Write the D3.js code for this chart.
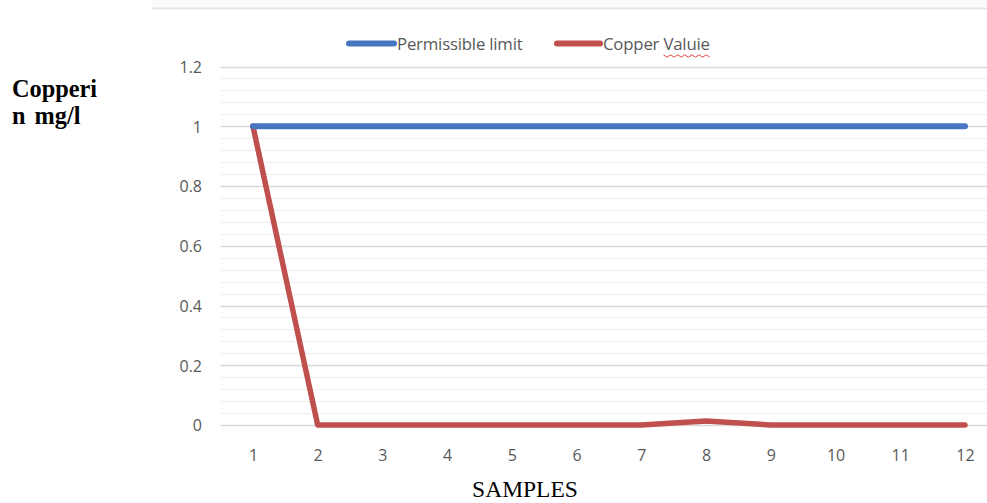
<!DOCTYPE html>
<html><head><meta charset="utf-8">
<script src="https://cdn.jsdelivr.net/npm/d3@7"></script>
<style>html,body{margin:0;padding:0;background:#fff;}svg{display:block;}</style>
</head><body>
<svg id="c" width="987" height="503"></svg>
<script>
const samples = ["1","2","3","4","5","6","7","8","9","10","11","12"];
const permissibleLimit = [1,1,1,1,1,1,1,1,1,1,1,1];
const copperValue = [1,0,0,0,0,0,0,0.013,0,0,0,0];
const yTicks = [0,0.2,0.4,0.6,0.8,1,1.2];
const seriesNames = ["Permissible limit","Copper Valuie"];
const seriesColors = ["#4775c2","#c0504d"];

const svg = d3.select("#c");
const W = 987, H = 503;
const left = 220.6, bandW = 64.73;
const x = d3.scalePoint().domain(samples).range([left + bandW/2, left + bandW/2 + bandW*11]);
const y = d3.scaleLinear().domain([0,1.2]).range([425,66.5]);
const sans = "'Open Sans', 'Noto Sans', sans-serif";
const serif = "'Liberation Serif', 'Times New Roman', serif";

// top frame strip
svg.append("rect").attr("x",152).attr("y",0).attr("width",W-152).attr("height",8).attr("fill","#fafafa");
svg.append("line").attr("x1",152).attr("x2",W).attr("y1",8.5).attr("y2",8.5).attr("stroke","#e6e6e6").attr("stroke-width",2);

const gridRight = left + bandW*12;
// minor gridlines
const minor = d3.range(0, 1.2001, 0.04).filter(v => Math.abs(v/0.2 - Math.round(v/0.2)) > 1e-6);
svg.append("g").selectAll("line").data(minor).join("line")
  .attr("x1",left).attr("x2",gridRight)
  .attr("y1",d=>Math.round(y(d))+0.5).attr("y2",d=>Math.round(y(d))+0.5)
  .attr("stroke","#efefef").attr("stroke-width",1);
// major gridlines
svg.append("g").selectAll("line").data(yTicks).join("line")
  .attr("x1",left).attr("x2",gridRight)
  .attr("y1",d=>Math.round(y(d))+0.5).attr("y2",d=>Math.round(y(d))+0.5)
  .attr("stroke","#d9d9d9").attr("stroke-width",1.3);

// y axis labels
const yAxis = d3.axisLeft(y).tickValues(yTicks).tickSize(0).tickPadding(0).tickFormat(d=>d3.format("~g")(d));
const gy = svg.append("g").attr("transform","translate(202,0)").call(yAxis);
gy.select(".domain").remove();
gy.selectAll("text").attr("fill","#595959").attr("font-family",sans).attr("font-size",16).attr("dy","0.36em");

// x axis labels
const xAxis = d3.axisBottom(x).tickSize(0).tickPadding(0);
const gx = svg.append("g").attr("transform","translate(0,0)").call(xAxis);
gx.select(".domain").remove();
gx.selectAll("text").attr("fill","#595959").attr("font-family",sans).attr("font-size",16).attr("y",461).attr("dy",null);

// lines
const line = d3.line().x((d,i)=>x(samples[i])).y(d=>y(d));
svg.append("path").datum(copperValue).attr("d", line)
  .attr("fill","none").attr("stroke",seriesColors[1]).attr("stroke-width",5.5).attr("stroke-linecap","round").attr("stroke-linejoin","round");
svg.append("path").datum(permissibleLimit).attr("d", line)
  .attr("fill","none").attr("stroke",seriesColors[0]).attr("stroke-width",6).attr("stroke-linecap","round");

// legend
const legend = [{x1:349,x2:394,tx:397},{x1:557,x2:600,tx:603}];
legend.forEach((l,i)=>{
  svg.append("line").attr("x1",l.x1).attr("x2",l.x2).attr("y1",43.5).attr("y2",43.5)
    .attr("stroke",seriesColors[i]).attr("stroke-width",6).attr("stroke-linecap","round");
  const t = svg.append("text").attr("x",l.tx).attr("y",50).text(seriesNames[i])
    .attr("fill","#595959").attr("font-family",sans).attr("font-size",16.8).attr("letter-spacing",-0.2);
  if (i === 1) {
    // spell-check squiggle under "Valuie"
    const node = t.node();
    const s = seriesNames[1].indexOf("Valuie");
    const x0 = l.tx + node.getSubStringLength(0, s);
    const x1 = l.tx + node.getComputedTextLength();
    const n = Math.max(2, Math.round((x1 - x0) / 3.5));
    const sq = d3.range(0, n + 1).map(k => [x0 + k*(x1-x0)/n, 56 + (k%2 ? 1.2 : -1.2)]);
    svg.append("path").attr("d", d3.line()(sq)).attr("fill","none").attr("stroke","#e03030").attr("stroke-width",0.9);
  }
});

// y title
const yt = svg.append("text").attr("font-family",serif).attr("font-weight","bold").attr("font-size",24.3).attr("fill","#000");
yt.append("tspan").attr("x",12).attr("y",97).text("Copperi");
yt.append("tspan").attr("x",12).attr("y",124).attr("word-spacing",3).text("n mg/l");

// x title
svg.append("text").attr("x",525).attr("y",497).attr("text-anchor","middle")
  .attr("font-family",serif).attr("font-size",23.5).attr("fill","#000").text("SAMPLES");
</script>
</body></html>
